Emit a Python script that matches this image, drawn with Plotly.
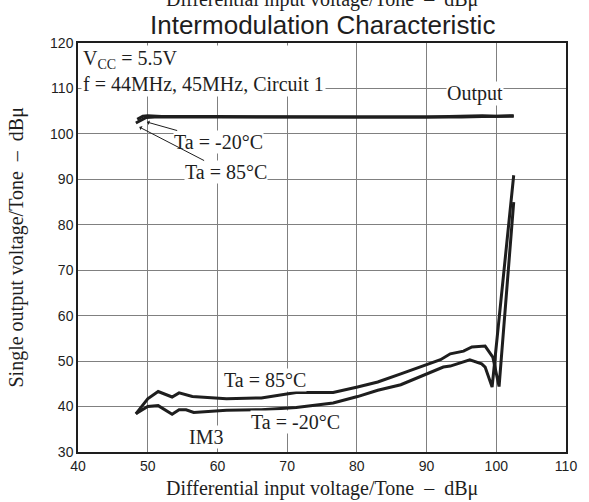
import plotly.graph_objects as go

# ---- data ----
out_m20_x = [48.5, 49.3, 50.0, 52, 60, 70, 80, 90, 95, 98, 100, 102.5]
out_m20_y = [103.2, 103.9, 104.0, 103.8, 103.8, 103.7, 103.7, 103.7, 103.9, 104.0, 103.9, 104.0]
out_85_x = [48.3, 49.0, 49.8, 51, 60, 70, 80, 90, 95, 98, 100, 102.5]
out_85_y = [102.4, 103.0, 103.6, 103.7, 103.7, 103.6, 103.6, 103.6, 103.7, 103.8, 103.8, 103.9]

im3_85_x = [48.3, 50.0, 51.5, 53.5, 54.5, 56.4, 61.3, 66.3, 71.3, 76.6, 80.1, 83.0, 86.3,
            92.0, 93.4, 95.3, 96.5, 98.4, 99.5, 100.4, 102.5]
im3_85_y = [38.4, 41.7, 43.3, 42.1, 43.0, 42.2, 41.7, 41.9, 43.1, 43.1, 44.3, 45.4, 47.2,
            50.3, 51.6, 52.2, 53.1, 53.3, 50.9, 44.4, 85.0]
im3_m20_x = [48.3, 50.0, 51.5, 53.5, 54.5, 55.5, 56.6, 61.3, 66.3, 71.3, 76.6, 80.1, 83.0,
             86.3, 92.4, 93.4, 96.2, 97.9, 98.4, 99.4, 102.5]
im3_m20_y = [38.4, 40.0, 40.2, 38.3, 39.3, 39.3, 38.7, 39.2, 39.3, 39.8, 40.8, 42.2, 43.6,
             44.8, 48.7, 48.9, 50.3, 49.4, 48.7, 44.3, 90.9]

x_ticks = [40, 50, 60, 70, 80, 90, 100, 110]
y_ticks = [30, 40, 50, 60, 70, 80, 90, 100, 110, 120]

SERIF = "Liberation Serif, Times New Roman, serif"
SANS = "Liberation Sans, Arial, sans-serif"
INK = "#1e1e1e"

fig = go.Figure()
for xs, ys in [(out_m20_x, out_m20_y), (out_85_x, out_85_y),
               (im3_85_x, im3_85_y), (im3_m20_x, im3_m20_y)]:
    fig.add_trace(go.Scatter(x=xs, y=ys, mode="lines",
                             line=dict(color=INK, width=3), showlegend=False,
                             hoverinfo="skip"))

anns = []
# title & clipped top text
anns.append(dict(text="Differential input voltage/Tone  \u2013  dB\u03bc", xref="paper", yref="paper",
                 x=0.5, y=1, yanchor="top", yshift=57, showarrow=False,
                 font=dict(family=SERIF, size=20, color=INK)))
anns.append(dict(text="Intermodulation Characteristic", xref="paper", yref="paper",
                 x=0.5, y=1, yanchor="middle", yshift=18, showarrow=False,
                 font=dict(family=SANS, size=26, color=INK)))
# axis titles
anns.append(dict(text="Differential input voltage/Tone  \u2013  dB\u03bc", xref="paper", yref="paper",
                 x=0.5, y=0, yanchor="top", yshift=-23, showarrow=False,
                 font=dict(family=SERIF, size=20, color=INK)))
anns.append(dict(text="Single output voltage/Tone  \u2013  dB\u03bc", xref="paper", yref="paper",
                 x=0, y=0.5, xanchor="center", xshift=-62, textangle=-90, showarrow=False,
                 font=dict(family=SERIF, size=20, color=INK)))
# in-plot labels
anns.append(dict(text="V<sub>CC</sub> = 5.5V<br>f = 44MHz, 45MHz, Circuit 1", x=40, y=120,
                 xanchor="left", yanchor="top", xshift=3, yshift=-2, align="left",
                 showarrow=False, bgcolor="white", borderpad=1,
                 font=dict(family=SERIF, size=20, color=INK)))
anns.append(dict(text="Output", x=97.0, y=108.8, showarrow=False, bgcolor="white", borderpad=0,
                 font=dict(family=SERIF, size=20, color=INK)))
anns.append(dict(text="Ta = -20\u00b0C", x=49.9, y=102.6, ax=71, ay=20, showarrow=True,
                 arrowhead=1, arrowsize=0.8, arrowwidth=1, arrowcolor=INK,
                 bgcolor="white", borderpad=0,
                 font=dict(family=SERIF, size=20, color=INK)))
anns.append(dict(text="Ta = 85\u00b0C", x=48.8, y=101.5, ax=87, ay=45, showarrow=True,
                 arrowhead=1, arrowsize=0.8, arrowwidth=1, arrowcolor=INK,
                 bgcolor="white", borderpad=0,
                 font=dict(family=SERIF, size=20, color=INK)))
anns.append(dict(text="Ta = 85\u00b0C", x=66.8, y=45.8, showarrow=False, bgcolor="white", borderpad=0,
                 font=dict(family=SERIF, size=20, color=INK)))
anns.append(dict(text="Ta = -20\u00b0C", x=71.25, y=36.5, showarrow=False, bgcolor="white", borderpad=0,
                 font=dict(family=SERIF, size=20, color=INK)))
anns.append(dict(text="IM3", x=58.4, y=33.4, showarrow=False, bgcolor="white", borderpad=0,
                 font=dict(family=SERIF, size=20, color=INK)))

axis_common = dict(showgrid=True, gridcolor="#808080", gridwidth=1, showline=True,
                   linecolor=INK, linewidth=1.5, mirror=True, ticks="", zeroline=False,
                   tickfont=dict(family=SANS, size=14, color=INK))

fig.update_layout(
    width=589, height=502,
    margin=dict(l=78, r=17, t=43, b=50),
    paper_bgcolor="white", plot_bgcolor="white",
    xaxis=dict(range=[40, 110], tickvals=x_ticks, ticktext=[str(v) for v in x_ticks], **axis_common),
    yaxis=dict(range=[30, 120], tickvals=y_ticks, ticktext=[str(v) for v in y_ticks], **axis_common),
    annotations=anns,
    showlegend=False,
)
fig.write_html("out.html", config={"displayModeBar": False},
               post_script="document.body.style.margin='0';")
